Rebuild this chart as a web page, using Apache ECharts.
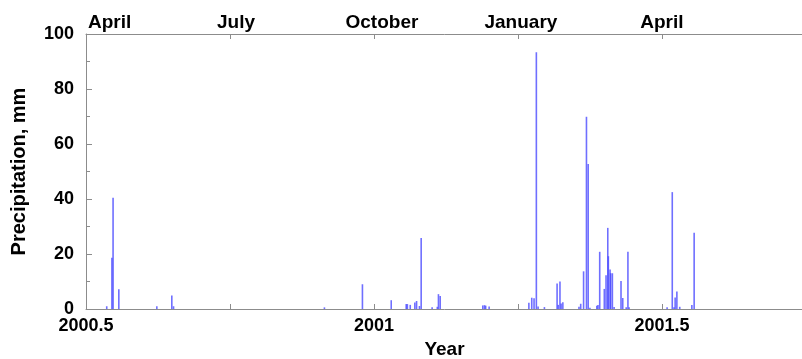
<!DOCTYPE html>
<html>
<head>
<meta charset="utf-8">
<script src="https://cdn.jsdelivr.net/npm/echarts@6/dist/echarts.min.js"></script>
<style>
html,body{margin:0;padding:0;background:#fff;}
#chart{width:802px;height:359px;}
</style>
</head>
<body>
<div id="chart"></div>
<script>
// Daily precipitation events: decimal year and amount (mm)
var eventYears = [
  2000.536, 2000.545, 2000.547, 2000.557, 2000.623, 2000.649, 2000.652,
  2000.914, 2000.980, 2001.030, 2001.056, 2001.058, 2001.063, 2001.071,
  2001.074, 2001.079, 2001.082, 2001.101, 2001.110, 2001.112, 2001.115,
  2001.189, 2001.192, 2001.194, 2001.200, 2001.269, 2001.274, 2001.278,
  2001.282, 2001.285, 2001.296, 2001.318, 2001.320, 2001.323, 2001.325,
  2001.328, 2001.356, 2001.359, 2001.364, 2001.369, 2001.372, 2001.375,
  2001.387, 2001.389, 2001.392, 2001.400, 2001.403, 2001.406, 2001.407,
  2001.410, 2001.411, 2001.414, 2001.417, 2001.429, 2001.432, 2001.438,
  2001.441, 2001.443, 2001.509, 2001.518, 2001.521, 2001.523, 2001.526,
  2001.531, 2001.552, 2001.556
];
var precipitation = [
  1.0, 18.6, 40.5, 7.2, 1.0, 4.9, 1.0,
  0.6, 9.0, 3.2, 1.8, 1.8, 1.5, 2.4,
  2.9, 1.1, 25.8, 0.6, 0.8, 5.4, 4.7,
  1.3, 1.4, 1.2, 0.9, 2.3, 4.1, 3.9,
  93.4, 0.9, 0.7, 9.3, 1.5, 10.0, 2.0,
  2.5, 0.8, 1.9, 13.7, 69.9, 52.7, 0.5,
  1.2, 1.5, 20.8, 7.3, 12.3, 29.5, 19.2,
  14.4, 13.0, 13.0, 0.7, 10.2, 4.0, 0.6,
  20.8, 0.6, 0.6, 42.5, 0.6, 4.2, 6.4,
  0.8, 1.5, 27.7
];
// Axis tick labels
var yearTickValues = [2000.5, 2001, 2001.5];
var yearTickLabels = ['2000.5', '2001', '2001.5'];
var monthTickValues = [2000.5, 2000.75, 2001, 2001.25, 2001.5];
var monthTickLabels = ['April', 'July', 'October', 'January', 'April'];
var yTickLabels = ['0', '20', '40', '60', '80', '100'];

// label nudge styles for the top month labels (rich text names)
var monthRichKeys = ['m0', 'm1', 'm2', 'm3', 'm4'];

function indexOfTick(values, v) {
  for (var i = 0; i < values.length; i++) {
    if (Math.abs(values[i] - v) < 1e-6) return i;
  }
  return -1;
}

var seriesData = eventYears.map(function (x, i) { return [x, precipitation[i]]; });

var fontFam = '"Liberation Sans", Arial, sans-serif';
var axisGrey = '#8c8c8c';
var labelFont = {color: '#000', fontFamily: fontFam, fontWeight: 'bold', fontSize: 19};

var chart = echarts.init(document.getElementById('chart'), null, {renderer: 'canvas'});
chart.setOption({
  animation: false,
  backgroundColor: '#ffffff',
  grid: {left: 86, right: -1, top: 34, bottom: 50, containLabel: false, outerBoundsMode: 'none'},
  xAxis: [
    {
      type: 'value', position: 'bottom', min: 2000.5, max: 2001.745, interval: 0.25,
      name: 'Year', nameLocation: 'middle', nameGap: 29,
      nameTextStyle: {color: '#000', fontFamily: fontFam, fontWeight: 'bold', fontSize: 19},
      axisLine: {show: true, lineStyle: {color: axisGrey, width: 1}},
      axisTick: {show: true, inside: true, length: 5, lineStyle: {color: axisGrey}},
      axisLabel: {
        color: '#000', fontFamily: fontFam, fontWeight: 'bold', fontSize: 18, margin: 8,
        showMaxLabel: false,
        formatter: function (v) {
          var i = indexOfTick(yearTickValues, v);
          return i < 0 ? '' : yearTickLabels[i];
        }
      },
      splitLine: {show: false}
    },
    {
      type: 'value', position: 'top', min: 2000.5, max: 2001.745, interval: 0.25,
      axisLine: {show: true, lineStyle: {color: axisGrey, width: 1}},
      axisTick: {show: true, inside: true, length: 5, lineStyle: {color: axisGrey}},
      axisLabel: {
        color: '#000', fontFamily: fontFam, fontWeight: 'bold', fontSize: 19, margin: 2,
        alignMinLabel: 'left', showMaxLabel: false,
        formatter: function (v) {
          var i = indexOfTick(monthTickValues, v);
          return i < 0 ? '' : '{' + monthRichKeys[i] + '|' + monthTickLabels[i] + '}';
        },
        rich: {
          m0: Object.assign({padding: [0, 0, 0, 2]}, labelFont),
          m1: Object.assign({padding: [0, 0, 0, 12]}, labelFont),
          m2: Object.assign({padding: [0, 0, 0, 16]}, labelFont),
          m3: Object.assign({padding: [0, 0, 0, 6]}, labelFont),
          m4: Object.assign({padding: [0, 0, 0, 0]}, labelFont)
        }
      },
      splitLine: {show: false}
    }
  ],
  yAxis: {
    type: 'value', min: 0, max: 100, interval: 20,
    name: 'Precipitation, mm', nameLocation: 'middle', nameGap: 57,
    nameTextStyle: {color: '#000', fontFamily: fontFam, fontWeight: 'bold', fontSize: 20},
    axisLine: {show: true, lineStyle: {color: axisGrey, width: 1}},
    axisTick: {show: true, inside: true, length: 6, lineStyle: {color: axisGrey}},
    minorTick: {show: true, splitNumber: 2, length: 4, lineStyle: {color: axisGrey}},
    axisLabel: {
      color: '#000', fontFamily: fontFam, fontWeight: 'bold', fontSize: 18, margin: 12,
      formatter: function (v) { return yTickLabels[Math.round(v / 20)]; }
    },
    splitLine: {show: false}
  },
  series: [{
    type: 'bar',
    xAxisIndex: 0,
    data: seriesData,
    barWidth: 1.6,
    itemStyle: {color: 'rgba(70,70,255,0.78)'},
    silent: true
  }]
});
</script>
</body>
</html>
